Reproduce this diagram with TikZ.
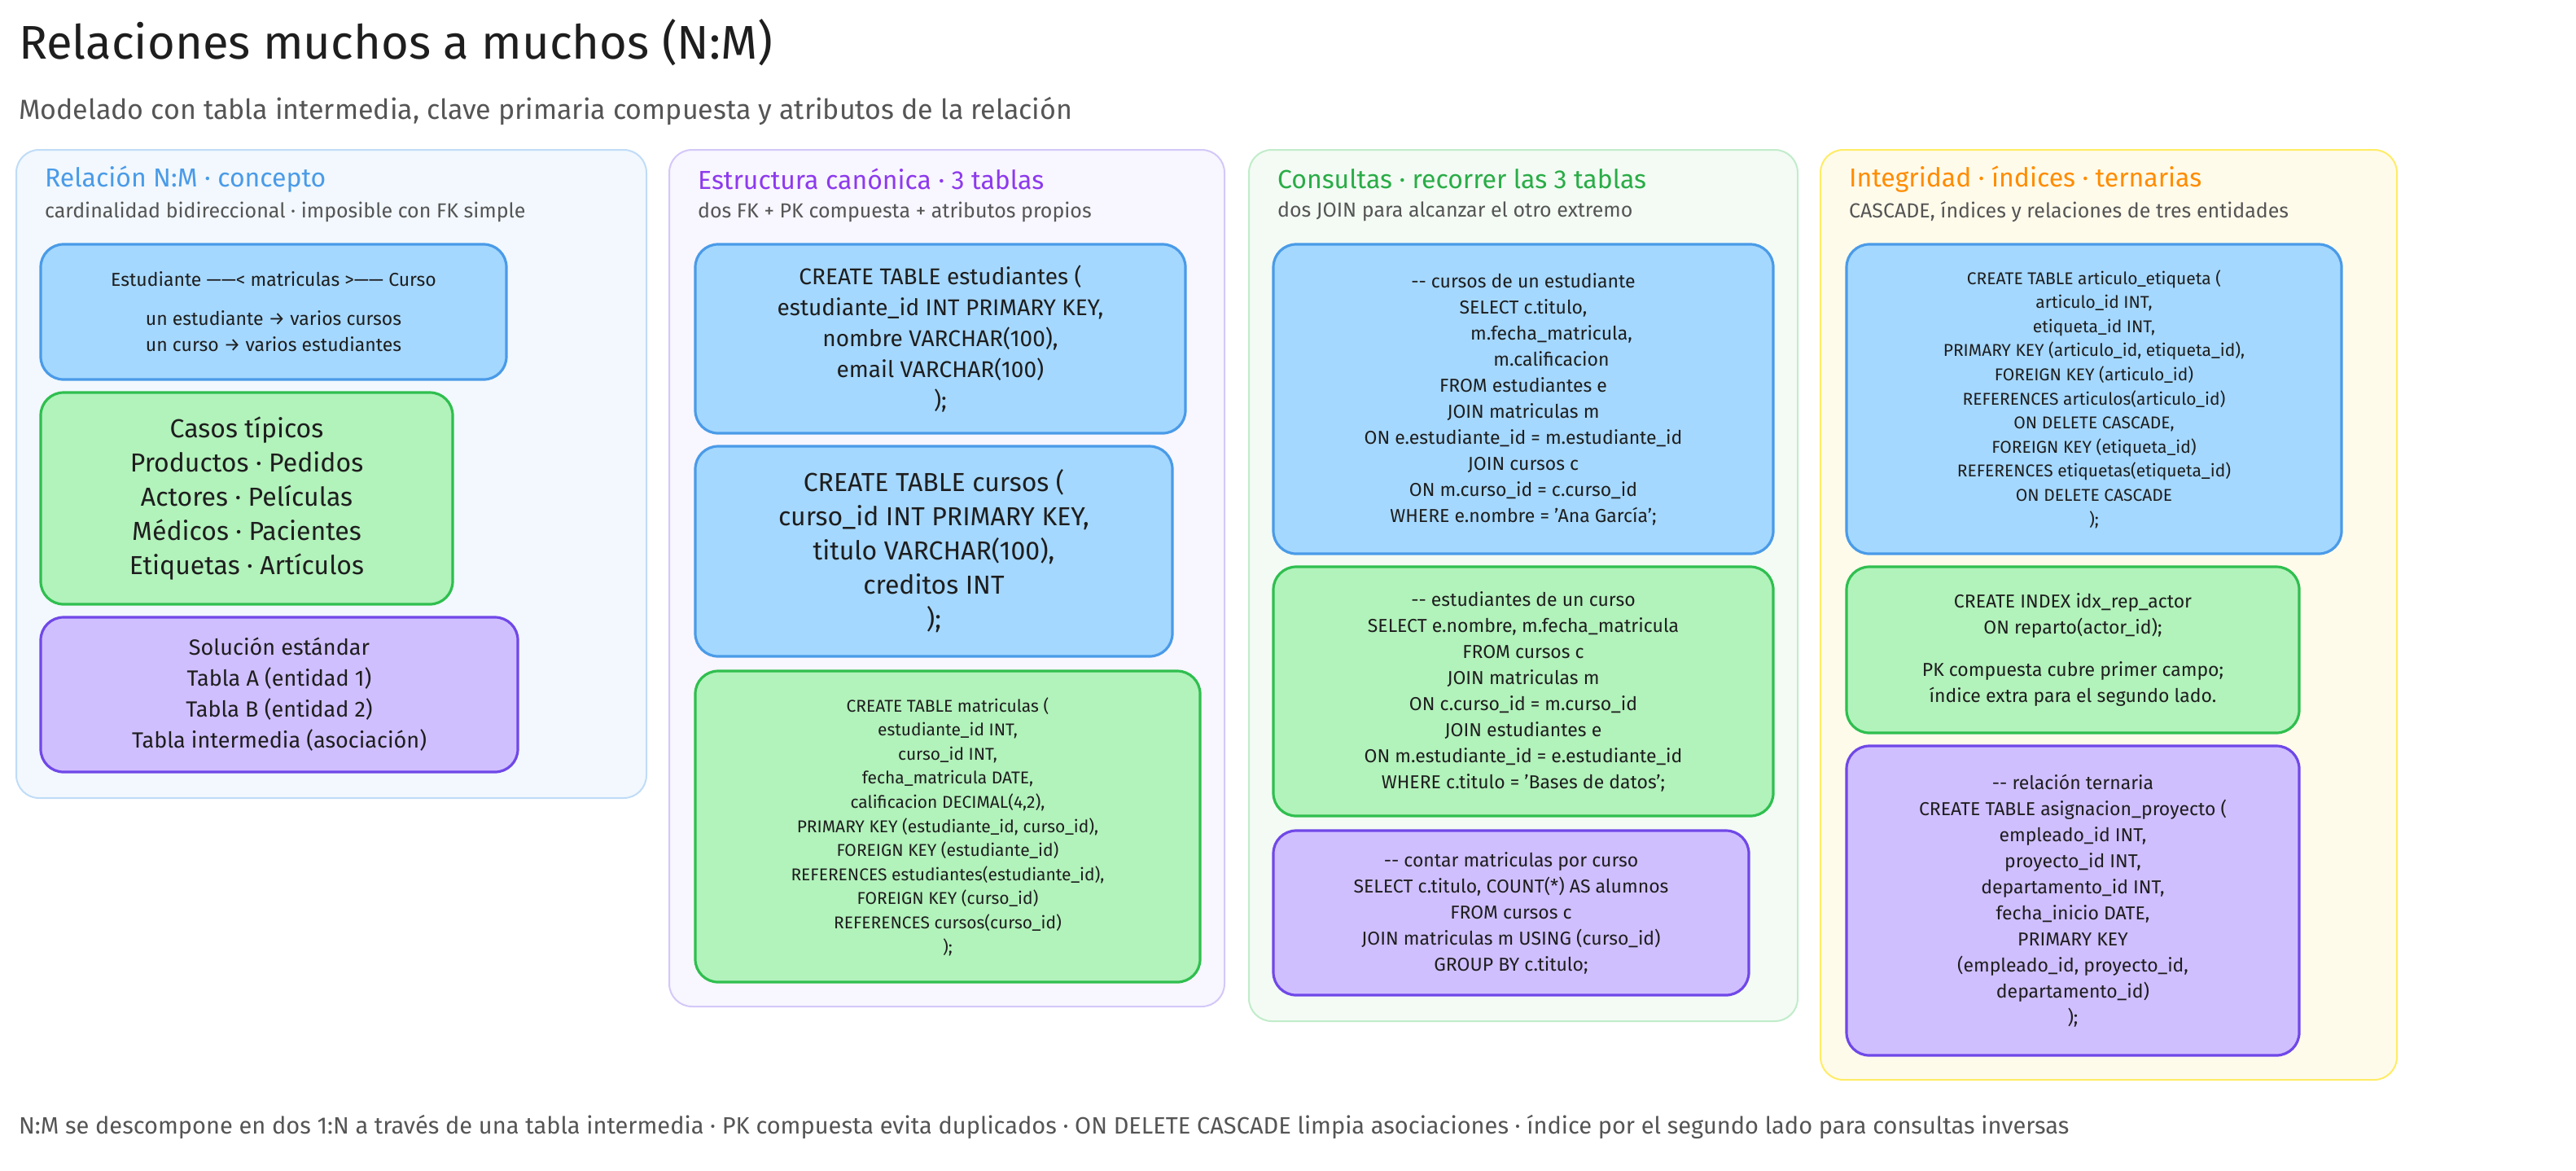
\documentclass[tikz,border=0pt]{standalone}
\usepackage{fontspec}
\setmainfont{Fira Sans}
\usetikzlibrary{positioning}
\definecolor{bluefill}{HTML}{A5D8FF}
\definecolor{blueline}{HTML}{4A9BE8}
\definecolor{greenfill}{HTML}{B2F2BB}
\definecolor{greenline}{HTML}{2FBF4F}
\definecolor{purplefill}{HTML}{D0BFFF}
\definecolor{purpleline}{HTML}{7048E8}
\definecolor{yellowfill}{HTML}{FFFBEB}
\definecolor{inkgray}{HTML}{555555}
\definecolor{ink}{HTML}{1E1E1E}
\tikzset{
  panel/.style={draw=#1, line width=1pt, rounded corners=14pt},
  card/.style={rounded corners=14pt, line width=1.6pt, align=center, text=ink},
  bluecard/.style={card, draw=blueline, fill=bluefill},
  greencard/.style={card, draw=greenline, fill=greenfill},
  purplecard/.style={card, draw=purpleline, fill=purplefill},
  paneltitle/.style={anchor=west, font=\fontsize{16}{19}\selectfont, text=#1},
  panelsub/.style={anchor=west, font=\fontsize{12.5}{15}\selectfont, text=inkgray},
}
\newcommand{\fs}[2]{\fontsize{#1}{#2}\selectfont}
\begin{document}
\begin{tikzpicture}[x=1pt,y=1pt]
\useasboundingbox (0,0) rectangle (1582,-718.5);
% title
\node[anchor=west, font=\fs{29}{33}, text=ink] (title) at (8,-26) {Relaciones muchos a muchos (N:M)};
\node[anchor=west, font=\fs{17}{20}, text=inkgray] (subtitle) at (8,-68) {Modelado con tabla intermedia, clave primaria compuesta y atributos de la relación};
% panels
\draw[panel=blueline!35, fill=blueline!7] (10,-92) rectangle (397,-490);
\draw[panel=purpleline!30, fill=purpleline!5] (411,-92) rectangle (752,-618);
\draw[panel=greenline!30, fill=greenline!6] (767,-92) rectangle (1104,-627);
\draw[panel=orange!25!yellow!60, fill=yellowfill] (1118,-92) rectangle (1472,-663);
\node[paneltitle=blueline] (t1) at (24,-110) {Relación N:M · concepto};
\node[panelsub] (s1) at (24,-130) {cardinalidad bidireccional · imposible con FK simple};
\node[paneltitle=purpleline!80!magenta] (t2) at (425,-110) {Estructura canónica · 3 tablas};
\node[panelsub] (s2) at (425,-130) {dos FK + PK compuesta + atributos propios};
\node[paneltitle=greenline!90!black] (t3) at (781,-110) {Consultas · recorrer las 3 tablas};
\node[panelsub] (s3) at (781,-130) {dos JOIN para alcanzar el otro extremo};
\node[paneltitle=orange!90!yellow] (t4) at (1132,-110) {Integridad · índices · ternarias};
\node[panelsub] (s4) at (1132,-130) {CASCADE, índices y relaciones de tres entidades};
% panel 1
\node[bluecard, minimum width=286pt, minimum height=83pt, font=\fs{11.5}{16}] (rel) at (168,-191.5)
  {Estudiante ——< matriculas >—— Curso\\[8pt] un estudiante → varios cursos\\ un curso → varios estudiantes};
\node[greencard, minimum width=253pt, minimum height=130pt, font=\fs{16}{21}] (casos) at (151.5,-306)
  {Casos típicos\\ Productos · Pedidos\\ Actores · Películas\\ Médicos · Pacientes\\ Etiquetas · Artículos};
\node[purplecard, minimum width=293pt, minimum height=95pt, font=\fs{13.5}{19}] (sol) at (171.5,-426.5)
  {Solución estándar\\ Tabla A (entidad 1)\\ Tabla B (entidad 2)\\ Tabla intermedia (asociación)};
% panel 2
\node[bluecard, minimum width=301pt, minimum height=116pt, font=\fs{14}{19}] (est) at (577.5,-208)
  {CREATE TABLE estudiantes (\\ estudiante\_id INT PRIMARY KEY,\\ nombre VARCHAR(100),\\ email VARCHAR(100)\\ );};
\node[bluecard, minimum width=293pt, minimum height=129pt, font=\fs{16}{21}] (cur) at (573.5,-338.5)
  {CREATE TABLE cursos (\\ curso\_id INT PRIMARY KEY,\\ titulo VARCHAR(100),\\ creditos INT\\ );};
\node[greencard, minimum width=310pt, minimum height=191pt, font=\fs{10.5}{14.8}] (mat) at (582,-507.5)
  {CREATE TABLE matriculas (\\ estudiante\_id INT,\\ curso\_id INT,\\ fecha\_matricula DATE,\\ calificacion DECIMAL(4,2),\\
   PRIMARY KEY (estudiante\_id, curso\_id),\\ FOREIGN KEY (estudiante\_id)\\ REFERENCES estudiantes(estudiante\_id),\\
   FOREIGN KEY (curso\_id)\\ REFERENCES cursos(curso\_id)\\ );};
% panel 3
\node[bluecard, minimum width=307pt, minimum height=190pt, font=\fs{11.5}{16}] (q1) at (935.5,-245)
  {{-}{-} cursos de un estudiante\\ SELECT c.titulo,\\ \hspace*{3em}m.fecha\_matricula,\\ \hspace*{3em}m.calificacion\\ FROM estudiantes e\\
   JOIN matriculas m\\ ON e.estudiante\_id = m.estudiante\_id\\ JOIN cursos c\\ ON m.curso\_id = c.curso\_id\\ WHERE e.nombre = 'Ana García';};
\node[greencard, minimum width=307pt, minimum height=153pt, font=\fs{11.5}{16}] (q2) at (935.5,-424.5)
  {{-}{-} estudiantes de un curso\\ SELECT e.nombre, m.fecha\_matricula\\ FROM cursos c\\ JOIN matriculas m\\ ON c.curso\_id = m.curso\_id\\
   JOIN estudiantes e\\ ON m.estudiante\_id = e.estudiante\_id\\ WHERE c.titulo = 'Bases de datos';};
\node[purplecard, minimum width=292pt, minimum height=101pt, font=\fs{11.5}{16}] (q3) at (928,-560.5)
  {{-}{-} contar matriculas por curso\\ SELECT c.titulo, COUNT(*) AS alumnos\\ FROM cursos c\\ JOIN matriculas m USING (curso\_id)\\ GROUP BY c.titulo;};
% panel 4
\node[bluecard, minimum width=304pt, minimum height=190pt, font=\fs{10.5}{14.8}] (art) at (1286,-245)
  {CREATE TABLE articulo\_etiqueta (\\ articulo\_id INT,\\ etiqueta\_id INT,\\ PRIMARY KEY (articulo\_id, etiqueta\_id),\\
   FOREIGN KEY (articulo\_id)\\ REFERENCES articulos(articulo\_id)\\ ON DELETE CASCADE,\\ FOREIGN KEY (etiqueta\_id)\\
   REFERENCES etiquetas(etiqueta\_id)\\ ON DELETE CASCADE\\ );};
\node[greencard, minimum width=278pt, minimum height=102pt, font=\fs{11.5}{16}] (idx) at (1273,-399)
  {CREATE INDEX idx\_rep\_actor\\ ON reparto(actor\_id);\\[10pt] PK compuesta cubre primer campo;\\ índice extra para el segundo lado.};
\node[purplecard, minimum width=278pt, minimum height=190pt, font=\fs{11.5}{16}] (ter) at (1273,-553)
  {{-}{-} relación ternaria\\ CREATE TABLE asignacion\_proyecto (\\ empleado\_id INT,\\ proyecto\_id INT,\\ departamento\_id INT,\\
   fecha\_inicio DATE,\\ PRIMARY KEY\\ (empleado\_id, proyecto\_id,\\ departamento\_id)\\ );};
% footer
\node[anchor=west, font=\fs{14.5}{17}, text=inkgray] (foot) at (8,-692)
  {N:M se descompone en dos 1:N a través de una tabla intermedia · PK compuesta evita duplicados · ON DELETE CASCADE limpia asociaciones · índice por el segundo lado para consultas inversas};
\end{tikzpicture}
\end{document}
